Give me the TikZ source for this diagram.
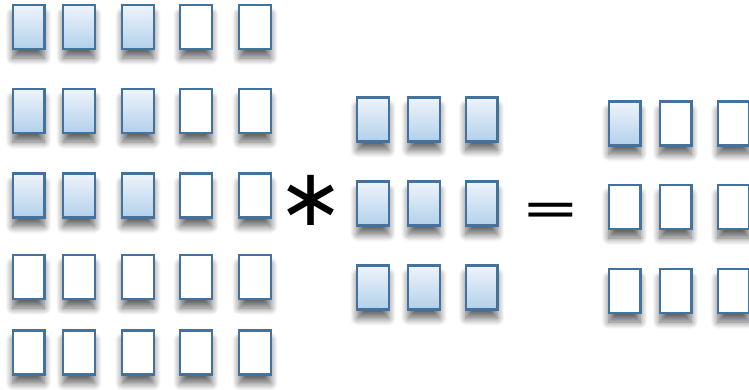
\documentclass[tikz,border=0pt]{standalone}
\usepackage{fontspec}
\newfontfamily\opfont{DejaVu Sans}
\usetikzlibrary{shadows.blur}

\definecolor{cellline}{HTML}{44729F}
\definecolor{celltop}{HTML}{EEF4FB}
\definecolor{cellbot}{HTML}{B2D0EB}

\tikzset{
  cell/.style={rectangle, draw=cellline, line width=2.4pt, fill=white,
    inner sep=0pt, minimum width=31.6pt, minimum height=44pt,
    blur shadow={shadow xshift=0pt, shadow yshift=-9pt,
      shadow blur radius=7pt, shadow blur steps=10, shadow opacity=60}},
  active/.style={top color=celltop, bottom color=cellbot},
  sign/.style={inner sep=0pt, text=black},
}

\begin{document}
\begin{tikzpicture}[x=1pt, y=-1pt]

\useasboundingbox (0,0) rectangle (749,389);

% INPUT 5x5
\foreach \r/\y in {1/27,2/111,3/195.5,4/277,5/352.5}
  \foreach \c/\x in {1/28.5,2/79,3/138,4/196,5/255} {
    \ifnum\r<4 \ifnum\c<4 \def\look{active}\else\def\look{}\fi
    \else \def\look{}\fi
    \node [cell, \look] (in-\r-\c) at (\x,\y) {};
  }

% KERNEL 3x3
\foreach \r/\y in {1/119.5,2/203.5,3/287.5}
  \foreach \c/\x in {1/373,2/424,3/481.5}
    \node [cell, active] (k-\r-\c) at (\x,\y) {};

% OUTPUT 3x3
\foreach \r/\y in {1/123.5,2/207,3/291}
  \foreach \c/\x in {1/624.5,2/675.5,3/733.5} {
    \ifnum\r=1 \ifnum\c=1 \def\look{active}\else\def\look{}\fi
    \else \def\look{}\fi
    \node [cell, \look] (out-\r-\c) at (\x,\y) {};
  }

% OPERATORS
\node [sign] (times) at (311,200) {\fontsize{80}{80}\selectfont\opfont ∗};
\node [sign, anchor=base] (equals) at (550.5,225)
  {\scalebox{1}[0.7]{\fontsize{70}{70}\selectfont\opfont =}};

\end{tikzpicture}
\end{document}
